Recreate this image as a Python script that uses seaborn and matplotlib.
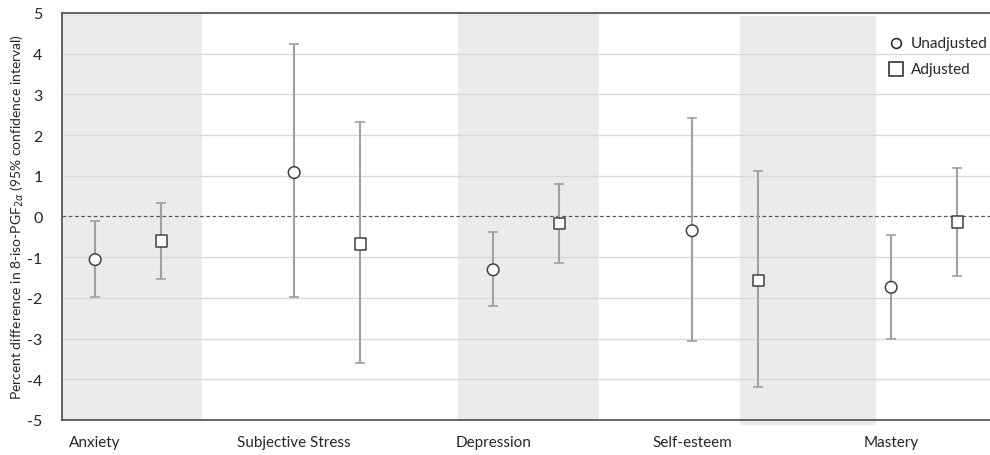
"""Percent difference in 8-iso-PGF2a by psychosocial measure"""

import matplotlib

matplotlib.use("Agg")
import matplotlib.pyplot as plt
import pandas as pd
import seaborn as sns

categories = ["Anxiety", "Subjective Stress", "Depression", "Self-esteem", "Mastery"]

unadj_est = [-1.06, 1.08, -1.31, -0.35, -1.74]
unadj_low = [-1.97, -1.98, -2.21, -3.05, -3.02]
unadj_high = [-0.12, 4.24, -0.37, 2.42, -0.45]

adj_est = [-0.60, -0.67, -0.17, -1.57, -0.13]
adj_low = [-1.53, -3.60, -1.15, -4.20, -1.47]
adj_high = [0.34, 2.33, 0.81, 1.13, 1.20]

# shaded bands (x start, x end, y bottom, y top) in category units
bands = [(0.0, 0.704, -5.0, 5.0), (1.99, 2.70, -5.0, 5.0), (3.407, 4.09, -5.12, 4.93)]

rows = []
for i, cat in enumerate(categories):
    rows.append(dict(x=i + 1 / 6, est=unadj_est[i], low=unadj_low[i],
                     high=unadj_high[i], Model="Unadjusted"))
    rows.append(dict(x=i + 1 / 2, est=adj_est[i], low=adj_low[i],
                     high=adj_high[i], Model="Adjusted"))
df = pd.DataFrame(rows)

sns.set_style("white")
plt.rcParams["font.family"] = ["Lato", "DejaVu Sans"]

fig = plt.figure(figsize=(9.9, 4.56), dpi=100)
ax = fig.add_axes([0.0626, 0.0768, 0.9374, 0.8925])

for x0, x1, y0, y1 in bands:
    ax.fill_between([x0, x1], y0, y1, color="#ebebeb", lw=0, zorder=0, clip_on=False)

for yv in range(-4, 6):
    if yv != 0:
        ax.axhline(yv, color="#d9d9d9", lw=1, zorder=1)
ax.axhline(0, color="#595959", lw=0.9, ls=(0, (3, 2)), zorder=2)

ax.errorbar(df["x"], df["est"],
            yerr=[df["est"] - df["low"], df["high"] - df["est"]],
            fmt="none", ecolor="#a0a0a0", elinewidth=1.5, capsize=3.5,
            capthick=1.2, zorder=3)

sns.scatterplot(data=df, x="x", y="est", style="Model",
                markers={"Unadjusted": "o", "Adjusted": "s"},
                style_order=["Unadjusted", "Adjusted"],
                s=70, facecolor="white", edgecolor="#404040", linewidth=1.1,
                ax=ax, zorder=4, legend=False)

h1 = ax.scatter([], [], marker="o", s=50, facecolor="white", edgecolor="#202020", linewidth=1.1)
h2 = ax.scatter([], [], marker="s", s=110, facecolor="white", edgecolor="#202020", linewidth=1.1)
ax.legend([h1, h2], ["Unadjusted", "Adjusted"], loc="upper right",
          bbox_to_anchor=(1.012, 0.978), frameon=False, fontsize=11,
          handletextpad=0.35, labelspacing=0.8, handlelength=1.2)

ax.set_xlim(0, (990 - 62) / 199)
ax.set_ylim(-5, 5)
ax.set_yticks(range(-5, 6))
ax.set_yticklabels([str(v) for v in range(-5, 6)], fontsize=11.5)
ax.set_xticks([i + 1 / 6 for i in range(len(categories))])
ax.set_xticklabels(categories, fontsize=11)
ax.tick_params(axis="x", length=0, pad=11)
ax.tick_params(axis="y", length=0, pad=14)
ax.set_xlabel("")
ax.set_ylabel(r"Percent difference in 8-iso-PGF$_{2\alpha}$ (95% confidence interval)",
              fontsize=10, labelpad=1)

for side in ["left", "top", "bottom"]:
    ax.spines[side].set_color("#595959")
    ax.spines[side].set_linewidth(1.3)
ax.spines["right"].set_visible(False)

fig.savefig("out.png", dpi=100)
